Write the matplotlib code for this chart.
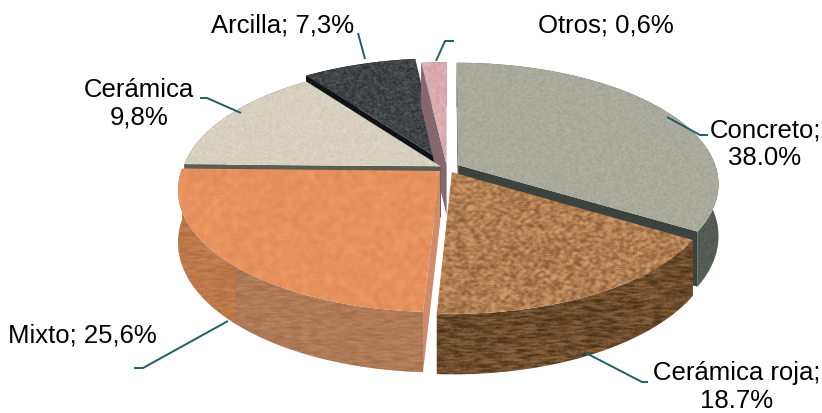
import numpy as np
import matplotlib
matplotlib.use("Agg")
import matplotlib.pyplot as plt
from matplotlib.patches import Polygon

# data
names = ["Concreto", "Cerámica roja", "Mixto", "Cerámica", "Arcilla", "Otros"]
values = [38.0, 18.7, 25.6, 9.8, 7.3, 0.6]
explode = [0.05, 0.04, 0.036, 0.026, 0.08, 0.03]
min_sweep = 6.0  # the thin slice is drawn wider in the original too

W, H = 822, 413
DEPTH = 51

# pie centre, radii and perspective, in pixels
CX, CY = 447, 168
RX, RY = 258, 118.7
PERSP = 0.152

# the original pie is foreshortened unevenly, this curve follows it
warp_in = [0, 90, 180, 270, 300, 330, 360]
warp_out = [0, 80, 162, 248, 278, 327, 360]

plt.rcParams["font.family"] = ["Liberation Sans", "DejaVu Sans"]

sweeps = np.maximum(np.array(values) * 3.6, min_sweep)
sweeps = sweeps * 360 / sweeps.sum()
bounds = np.interp(np.concatenate([[0], np.cumsum(sweeps)]), warp_in, warp_out)


def project(u, v):
    w = 1 + PERSP * v
    return CX + RX * u / w, CY - RY * v / w, 1 / w


# textures (hash noise on the pixel grid, no random numbers)
yy, xx = np.mgrid[0:H, 0:W]


def box_blur(a, sx, sy):
    for size, axis in ((sx, 1), (sy, 0)):
        if size > 1:
            kernel = np.ones(size) / size
            a = np.apply_along_axis(lambda r: np.convolve(r, kernel, mode="same"), axis, a)
    return a


def grain(sx, sy, seed):
    n = np.sin(xx * 12.9898 + yy * 78.233 + seed) * 43758.5453
    n = box_blur(n - np.floor(n), sx, sy)
    lo, hi = np.percentile(n, [2, 98])
    return np.clip((n - lo) / (hi - lo), 0, 1)


def texture(dark, light, sx=1, sy=1, seed=0.0):
    n = grain(sx, sy, seed)[..., None]
    dark = np.array(matplotlib.colors.to_rgb(dark))
    light = np.array(matplotlib.colors.to_rgb(light))
    return dark + (light - dark) * n


top_tex = [
    texture("#a0a294", "#b2b2a4", 2, 2, 1.0),
    texture("#8f5f38", "#cf9a68", 4, 3, 2.0),
    texture("#de8a58", "#ee9863", 6, 6, 3.0),
    texture("#d0c9b8", "#dfd8c8", 2, 2, 4.0),
    texture("#2e3134", "#54575a", 2, 2, 5.0),
    texture("#d2a0a6", "#e2b6ba", 2, 3, 6.0),
]
wall_tex = [
    texture("#4e544e", "#5c625c", 2, 2, 7.0),
    texture("#4d3218", "#8a6440", 9, 2, 8.0),
    texture("#a26e4c", "#b98560", 8, 2, 9.0),
    texture("#6a6a5c", "#74746a", 2, 2, 10.0),
    texture("#14171a", "#1c1f22", 2, 2, 11.0),
    texture("#8a6a72", "#94747c", 2, 2, 12.0),
]
# the left part of the Mixto wall is more orange in the original
mixto_left = texture("#b06c40", "#c88252", 8, 2, 13.0)
wall_tex[2] = np.where((xx < 235)[..., None], mixto_left, wall_tex[2])

cut_colors = ["#3c423e", "#3c2a18", "#d08c6a", "#5a5d52", "#101316", "#86666f"]
leader_color = "#1f6068"

# back to front
draw_order = [4, 5, 0, 3, 2, 1]

fig = plt.figure(figsize=(W / 100, H / 100), dpi=100, facecolor="white")
ax = fig.add_axes([0, 0, 1, 1])
ax.set_xlim(0, W)
ax.set_ylim(H, 0)
ax.axis("off")


def fill_texture(pts, tex, zorder):
    patch = Polygon(pts, closed=True, facecolor="none", edgecolor="none", zorder=zorder)
    ax.add_patch(patch)
    im = ax.imshow(tex, extent=(0, W, H, 0), aspect="auto", zorder=zorder,
                   interpolation="bilinear")
    im.set_clip_path(patch)


z = 2
for i in draw_order:
    th = np.radians(np.linspace(bounds[i], bounds[i + 1], 90))
    mid = np.radians((bounds[i] + bounds[i + 1]) / 2)
    ou, ov = explode[i] * np.sin(mid), explode[i] * np.cos(mid)

    ax_, ay_, s0 = project(np.array([ou]), np.array([ov]))
    rx, ry, rs = project(ou + np.sin(th), ov + np.cos(th))
    apex = np.array([ax_[0], ay_[0]])
    d0 = DEPTH * s0[0]
    drop = DEPTH * rs

    # outer wall
    outer = np.column_stack([np.r_[rx, rx[::-1]], np.r_[ry, (ry + drop)[::-1]]])
    fill_texture(outer, wall_tex[i], z)
    z += 1

    # cut faces, only the ones turned to the viewer
    inner = np.array([rx[45], ry[45]]) - apex
    for k in (0, -1):
        edge = np.array([rx[k], ry[k]]) - apex
        side_in = edge[0] * inner[1] - edge[1] * inner[0]
        side_down = edge[0]
        if side_in * side_down < 0:
            cut = [apex, (rx[k], ry[k]), (rx[k], ry[k] + drop[k]), (apex[0], apex[1] + d0)]
            ax.add_patch(Polygon(cut, closed=True, facecolor=cut_colors[i],
                                 edgecolor="none", zorder=z))
            z += 1

    top = np.vstack([apex, np.column_stack([rx, ry])])
    fill_texture(top, top_tex[i], z)
    z += 1

ax.set_xlim(0, W)
ax.set_ylim(H, 0)

# labels and leader lines
fs = 18.5
ls = 1.19
ax.text(283, 25, "Arcilla; 7,3%", fontsize=fs, ha="center", va="center", zorder=z)
ax.text(606, 26, "Otros; 0,6%", fontsize=fs, ha="center", va="center", zorder=z)
ax.text(139, 104, "Cerámica\n9,8%", fontsize=fs, ha="center", va="center", zorder=z, linespacing=ls)
ax.text(765, 144, "Concreto;\n38.0%", fontsize=fs, ha="center", va="center", zorder=z, linespacing=ls)
ax.text(82, 336, "Mixto; 25,6%", fontsize=fs, ha="center", va="center", zorder=z)
ax.text(737, 387, "Cerámica roja;\n18.7%", fontsize=fs, ha="center", va="center", zorder=z, linespacing=ls)

leaders = [
    ([358, 365], [33, 59]),
    ([454, 445, 436], [41, 41, 61]),
    ([200, 207, 241], [98, 98, 113]),
    ([667, 700, 708], [117, 135, 135]),
    ([584, 642, 648], [352, 382, 382]),
    ([228, 143, 134], [321, 368, 368]),
]
for lx, ly in leaders:
    ax.plot(lx, ly, color=leader_color, lw=1.4, zorder=z, solid_capstyle="butt")

fig.savefig("out.png", dpi=100)
